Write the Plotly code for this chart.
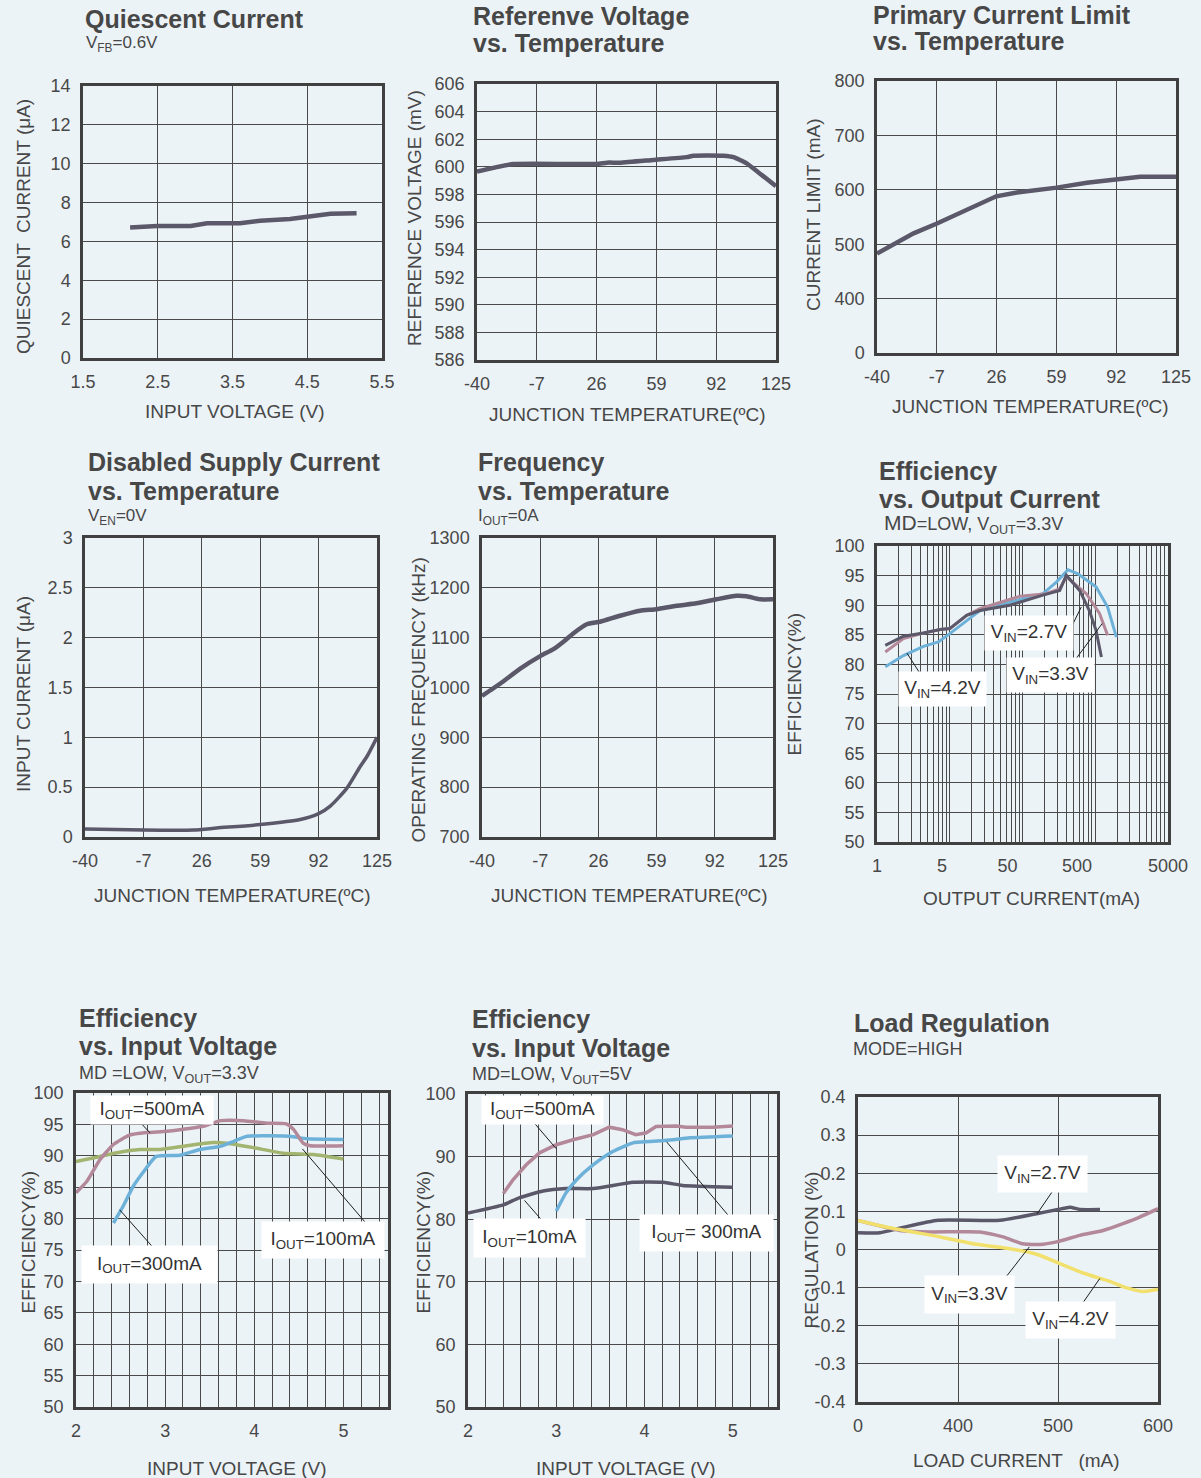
import math
import plotly.graph_objects as go

# ---------------- data ----------------
# 1. Quiescent current vs input voltage
qc_vin = [2.13, 2.49, 2.94, 3.16, 3.6, 3.87, 4.27, 4.5, 4.81, 5.16]
qc_iq = [6.72, 6.8, 6.8, 6.94, 6.94, 7.06, 7.16, 7.28, 7.42, 7.45]

# 2. Reference voltage vs temperature
rv_temp = [-40, -19.8, 26.1, 31.7, 39, 57.4, 75.8, 79.4, 96, 101.5, 108.8, 116.2, 125]
rv_mv = [599.65, 600.2, 600.2, 600.3, 600.3, 600.5, 600.7, 600.8, 600.8, 600.7, 600.25, 599.5, 598.6]

# temperature axis ticks (shared by charts 2-5)
temp_tickvals = [-40, -7, 26, 59, 92, 125]
temp_ticktext = ["-40", "-7", "26", "59", "92", "125"]

# 3. Primary current limit vs temperature (broken axis: "0" drawn at 300)
cl_temp = [-40, -19.8, -6.9, 2.3, 25.8, 37.2, 59.2, 75.8, 91.6, 105.2, 125]
cl_ma = [483, 520, 538, 552, 588, 595, 604, 613, 620, 624, 624]
cl_tickvals = [300, 400, 500, 600, 700, 800]
cl_ticktext = ["0", "400", "500", "600", "700", "800"]

# 4. Disabled supply current vs temperature
ds_temp = [-40, -7, 21.3, 34.5, 59, 81.6, 92, 98.6, 108, 115.6, 119.4, 125]
ds_ua = [0.08, 0.07, 0.07, 0.09, 0.125, 0.175, 0.235, 0.31, 0.49, 0.71, 0.81, 1.0]

# 5. Frequency vs temperature
fq_temp = [-40, -29.6, -18.3, -7, 0.5, 6.2, 11.9, 19.4, 27, 38.3, 49.6, 59, 70.3, 81.6, 93, 104.3, 110, 117.5, 125]
fq_khz = [983, 1008, 1038, 1063, 1077, 1092, 1109, 1127, 1132, 1144, 1154, 1157, 1164, 1169, 1177, 1184, 1183, 1177, 1177]

# 6. Efficiency vs output current (log axis)
eo_i_27 = [1.3, 2.31, 4.35, 7.4, 10, 17.1, 26, 67, 191, 325, 400, 610, 830, 1025, 1215]
eo_e_27 = [83.2, 84.75, 85.3, 85.9, 86.05, 88.3, 89.1, 90.0, 91.7, 92.5, 95.05, 92.5, 89.1, 85.75, 81.25]
eo_i_33 = [1.3, 2.31, 4.35, 7.4, 10, 17.1, 26, 92, 213, 325, 400, 754, 1145, 1480]
eo_e_33 = [82.1, 84.35, 85.3, 85.9, 86.05, 88.3, 89.4, 91.5, 91.95, 92.8, 94.8, 91.95, 88.6, 84.9]
eo_i_42 = [1.3, 2.31, 4.35, 6.98, 10, 17.1, 26, 67, 191, 292, 422, 577, 1025, 1480, 1950]
eo_e_42 = [79.6, 81.5, 83.05, 83.8, 85.2, 87.4, 89.1, 90.5, 91.95, 93.9, 96.0, 95.3, 93.1, 89.7, 84.6]
eo_gridvals = [m * 10 ** d for d in range(4) for m in range(1, 10)] + [10000]
eo_tickvals = [1, 7.8, 62, 560, 10000]
eo_ticktext = ["1", "5", "50", "500", "5000"]

# 7. Efficiency vs input voltage, VOUT=3.3V
e3_v_500 = [2.0, 2.12, 2.27, 2.42, 2.6, 2.79, 3.02, 3.24, 3.43, 3.62, 3.88, 4.14, 4.36, 4.44, 4.55, 4.63, 5.0]
e3_e_500 = [84.1, 85.9, 89.4, 91.8, 93.3, 93.7, 93.9, 94.3, 94.7, 95.6, 95.6, 95.2, 95.1, 94.2, 92.0, 91.6, 91.6]
e3_v_300 = [2.42, 2.53, 2.64, 2.76, 2.9, 3.17, 3.39, 3.62, 3.77, 3.92, 4.4, 4.59, 5.0]
e3_e_300 = [79.3, 82.0, 85.1, 87.5, 89.9, 90.1, 91.0, 91.5, 92.3, 93.1, 93.1, 92.7, 92.6]
e3_v_100 = [2.0, 2.27, 2.46, 2.72, 2.94, 3.24, 3.54, 3.69, 3.99, 4.33, 4.66, 5.0]
e3_e_100 = [89.1, 89.9, 90.5, 91.0, 91.0, 91.6, 92.1, 92.0, 91.3, 90.4, 90.2, 89.5]

# 8. Efficiency vs input voltage, VOUT=5V
e5_v_500 = [2.4, 2.51, 2.66, 2.81, 3.0, 3.19, 3.42, 3.6, 3.75, 3.9, 4.02, 4.13, 4.36, 4.47, 4.77, 5.0]
e5_e_500 = [84.1, 86.3, 88.7, 90.6, 91.9, 92.7, 93.5, 94.7, 94.3, 93.5, 93.8, 94.8, 94.9, 94.7, 94.7, 94.9]
e5_v_300 = [3.0, 3.11, 3.23, 3.42, 3.64, 3.87, 4.06, 4.32, 4.51, 5.0]
e5_e_300 = [81.3, 84.2, 86.3, 88.7, 90.8, 92.2, 92.4, 92.7, 93.0, 93.3]
e5_v_10 = [2.0, 2.4, 2.58, 2.85, 3.11, 3.42, 3.87, 4.21, 4.43, 5.0]
e5_e_10 = [81.0, 82.3, 83.4, 84.5, 84.9, 84.9, 85.9, 85.9, 85.4, 85.1]

# 9. Load regulation (broken axis: "0" drawn at 300)
lr_i_27 = [300, 322, 345, 380, 442, 478.6, 500, 512, 522, 542]
lr_r_27 = [0.044, 0.044, 0.058, 0.0765, 0.0765, 0.094, 0.105, 0.111, 0.105, 0.105]
lr_i_33 = [300, 342, 372, 422, 445, 465, 482, 498.6, 521.8, 545, 565, 581.7, 600]
lr_r_33 = [0.076, 0.05, 0.046, 0.046, 0.033, 0.015, 0.013, 0.02, 0.037, 0.05, 0.068, 0.085, 0.107]
lr_i_42 = [300, 332, 382, 418.8, 452, 478.6, 501.9, 525, 551.8, 568, 585, 600]
lr_r_42 = [0.0765, 0.057, 0.033, 0.0135, 0.002, -0.0125, -0.037, -0.0616, -0.0835, -0.1, -0.11, -0.105]
lr_tickvals = [300, 400, 500, 600]
lr_ticktext = ["0", "400", "500", "600"]
lr_ytickvals = [-0.4, -0.3, -0.2, -0.1, 0, 0.1, 0.2, 0.3, 0.4]
lr_yticktext = ["-0.4", "-0.3", "-0.2", "-0.1", "0", "0.1", "0.2", "0.3", "0.4"]

# ---------------- style ----------------
W, H = 1201, 1478
BG = "#ECF3F7"
GRID = "#4A4A4A"
FRAME = "#404040"
TXT = "#484848"
FONT = "Liberation Sans, Arial, Helvetica, sans-serif"
DARK = "#5A5869"
PINK = "#B3899A"
BLUE = "#6DB1D9"
GREEN = "#A2B46F"
YELLOW = "#F2E06C"
TICK = 18


def dom(x0, x1, y0, y1):
    return [x0 / W, x1 / W], [1 - y1 / H, 1 - y0 / H]


def px(x):
    return x / W


def py(y):
    return 1 - y / H


boxes = {
    1: (83, 382, 86, 358),
    2: (477, 776, 84, 360),
    3: (877, 1176, 81, 353),
    4: (85, 377, 538, 837),
    5: (482, 773, 538, 837),
    6: (877, 1168, 546, 842),
    7: (76, 388, 1093, 1407),
    8: (468, 777, 1094, 1407),
    9: (858, 1158, 1097, 1402),
}

fig = go.Figure()


def base_axis(**kw):
    d = dict(showline=True, mirror=True, linecolor=FRAME, linewidth=2.5,
             showgrid=True, gridcolor=GRID, gridwidth=1.3, zeroline=False,
             ticks="", tickfont=dict(size=TICK, color=TXT, family=FONT),
             ticklabelstandoff=6, fixedrange=True, automargin=False)
    d.update(kw)
    return d


xa = {}
ya = {}
xa[1] = base_axis(range=[1.5, 5.5], tickmode="linear", tick0=1.5, dtick=1)
ya[1] = base_axis(range=[0, 14], tickmode="linear", tick0=0, dtick=2)
temp_ticks = dict(range=[-40, 125], tickmode="array", tickvals=temp_tickvals, ticktext=temp_ticktext)
xa[2] = base_axis(**temp_ticks)
ya[2] = base_axis(range=[586, 606], tickmode="linear", tick0=586, dtick=2)
xa[3] = base_axis(**temp_ticks)
ya[3] = base_axis(range=[300, 800], tickmode="array", tickvals=cl_tickvals, ticktext=cl_ticktext)
xa[4] = base_axis(**temp_ticks)
ya[4] = base_axis(range=[0, 3], tickmode="linear", tick0=0, dtick=0.5)
xa[5] = base_axis(**temp_ticks)
ya[5] = base_axis(range=[700, 1300], tickmode="linear", tick0=700, dtick=100)
xa[6] = base_axis(type="log", range=[0, 4], tickmode="array", tickvals=eo_tickvals,
                  ticktext=eo_ticktext, showgrid=False,
                  minor=dict(tickmode="array", tickvals=eo_gridvals, showgrid=True,
                             gridcolor=GRID, gridwidth=1.3, ticks=""))
ya[6] = base_axis(range=[50, 100], tickmode="linear", tick0=50, dtick=5)
minor_v = dict(dtick=0.2, tick0=2, showgrid=True, gridcolor=GRID, gridwidth=1.3, ticks="")
xa[7] = base_axis(range=[2, 5.5], tickmode="linear", tick0=2, dtick=1, minor=minor_v)
ya[7] = base_axis(range=[50, 100], tickmode="linear", tick0=50, dtick=5)
xa[8] = base_axis(range=[2, 5.5], tickmode="linear", tick0=2, dtick=1, minor=minor_v)
ya[8] = base_axis(range=[50, 100], tickmode="linear", tick0=50, dtick=10)
xa[9] = base_axis(range=[300, 600], tickmode="array", tickvals=lr_tickvals, ticktext=lr_ticktext)
ya[9] = base_axis(range=[-0.4, 0.4], tickmode="array", tickvals=lr_ytickvals, ticktext=lr_yticktext)

layout_axes = {}
for k in range(1, 10):
    dx, dy = dom(*boxes[k])
    sx = "" if k == 1 else str(k)
    xa[k].update(domain=dx, anchor="y" + sx)
    ya[k].update(domain=dy, anchor="x" + sx)
    layout_axes["xaxis" + sx] = xa[k]
    layout_axes["yaxis" + sx] = ya[k]


def line(x, y, k, color, width=4, shape="spline", smoothing=0.6):
    sx = "" if k == 1 else str(k)
    fig.add_trace(go.Scatter(x=x, y=y, mode="lines", xaxis="x" + sx, yaxis="y" + sx,
                             line=dict(color=color, width=width, shape=shape, smoothing=smoothing),
                             showlegend=False, hoverinfo="skip"))


line(qc_vin, qc_iq, 1, DARK, 4.5, "linear")
line(rv_temp, rv_mv, 2, DARK, 4.5, "spline", 0.5)
line(cl_temp, cl_ma, 3, DARK, 4.5, "linear")
line(ds_temp, ds_ua, 4, DARK, 3.5, "spline", 0.6)
line(fq_temp, fq_khz, 5, DARK, 4.5, "spline", 0.5)
line(eo_i_42, eo_e_42, 6, BLUE, 3, "linear")
line(eo_i_33, eo_e_33, 6, PINK, 3, "linear")
line(eo_i_27, eo_e_27, 6, DARK, 3, "linear")
line(e3_v_100, e3_e_100, 7, GREEN, 3.5, "spline", 0.5)
line(e3_v_300, e3_e_300, 7, BLUE, 3.5, "spline", 0.5)
line(e3_v_500, e3_e_500, 7, PINK, 3.5, "spline", 0.5)
line(e5_v_10, e5_e_10, 8, DARK, 3.5, "spline", 0.5)
line(e5_v_300, e5_e_300, 8, BLUE, 3.5, "spline", 0.5)
line(e5_v_500, e5_e_500, 8, PINK, 3.5, "linear")
line(lr_i_27, lr_r_27, 9, DARK, 3.5, "spline", 0.5)
line(lr_i_33, lr_r_33, 9, PINK, 3.5, "spline", 0.5)
line(lr_i_42, lr_r_42, 9, YELLOW, 3.5, "spline", 0.5)

# ---------------- leader lines (curve -> label box) ----------------
leaders = [
    (7, [2.663, 2.83], [96.2, 93.65]),
    (7, [2.49, 2.89], [81.4, 75.0]),
    (7, [4.54, 5.30], [91.1, 78.5]),
    (8, [2.70, 3.0], [96.2, 91.25]),
    (8, [2.64, 2.87], [83.0, 79.3]),
    (8, [4.25, 5.02], [92.35, 79.4]),
    (6, [401, 643], [84.6, 89.7]),
    (6, [489, 1247], [80.2, 86.9]),
    (6, [4.31, 2.58], [77.65, 81.9]),
    (9, [500.2, 479.2], [0.1744, 0.094]),
    (9, [448, 471.3], [-0.072, 0.0066]),
    (9, [520.9, 541.8], [-0.155, -0.076]),
]
for k, lx, ly in leaders:
    line(lx, ly, k, "#1E1E1E", 1, "linear")

annotations = []
LS = 19


def label(k, x, y, text, w, h, log=False):
    sx = "" if k == 1 else str(k)
    annotations.append(dict(x=math.log10(x) if log else x, y=y, xref="x" + sx, yref="y" + sx,
                            text=text, showarrow=False, bgcolor="white", width=w, height=h,
                            font=dict(size=LS, color="#333333", family=FONT),
                            xanchor="center", yanchor="middle", align="center", valign="middle"))


IO = "I<sub>OUT</sub>"
VI = "V<sub>IN</sub>"
label(7, 2.854, 97.35, IO + "=500mA", 120, 26)
label(7, 2.826, 72.7, IO + "=300mA", 133, 35)
label(7, 4.775, 76.6, IO + "=100mA", 120, 34)
label(8, 2.84, 97.5, IO + "=500mA", 119, 26)
label(8, 2.70, 77.0, IO + "=10mA", 109, 36)
label(8, 4.70, 77.8, IO + "= 300mA", 131, 34)
label(6, 121, 85.3, VI + "=2.7V", 86, 32, log=True)
label(6, 240, 78.2, VI + "=3.3V", 85, 32, log=True)
label(6, 7.92, 75.8, VI + "=4.2V", 85, 32, log=True)
label(9, 484.2, 0.199, VI + "=2.7V", 87, 34)
label(9, 411.3, -0.118, VI + "=3.3V", 87, 35)
label(9, 512.6, -0.184, VI + "=4.2V", 87, 34)


def text(x, y, s, size, bold=False, angle=0, anchor="left"):
    annotations.append(dict(x=px(x), y=py(y), xref="paper", yref="paper", text=s,
                            showarrow=False, textangle=angle, xanchor=anchor, yanchor="middle",
                            font=dict(size=size, color="#474747", family=FONT,
                                      weight="bold" if bold else "normal")))


TS = 25
SS = 18
# titles
text(83, 19, "Quiescent Current", TS, True)
text(84, 44, "V<sub>FB</sub>=0.6V", 17)
text(471, 16.5, "Referenve Voltage", TS, True)
text(471, 43.5, "vs. Temperature", TS, True)
text(871, 15, "Primary Current Limit", TS, True)
text(871, 41, "vs. Temperature", TS, True)
text(86, 462, "Disabled Supply Current", TS, True)
text(86, 491, "vs. Temperature", TS, True)
text(86, 517, "V<sub>EN</sub>=0V", 17)
text(476, 462, "Frequency", TS, True)
text(476, 491, "vs. Temperature", TS, True)
text(476, 517, "I<sub>OUT</sub>=0A", 17)
text(877, 471, "Efficiency", TS, True)
text(877, 498.5, "vs. Output Current", TS, True)
text(882, 523.5, "<span style='font-size:21px'>MD</span>=LOW, V<sub>OUT</sub>=3.3V", SS)
text(77, 1018, "Efficiency", TS, True)
text(77, 1046, "vs. Input Voltage", TS, True)
text(77, 1074, "MD =LOW, V<sub>OUT</sub>=3.3V", SS)
text(470, 1019.5, "Efficiency", TS, True)
text(470, 1048, "vs. Input Voltage", TS, True)
text(470, 1075.5, "MD=LOW, V<sub>OUT</sub>=5V", SS)
text(852, 1022.5, "Load Regulation", TS, True)
text(851, 1048.5, "MODE=HIGH", SS)

# axis titles
AS = 19
text(234.5, 411, "INPUT VOLTAGE (V)", AS, anchor="center")
text(24, 227, "QUIESCENT  CURRENT (μA)", AS, angle=-90, anchor="center")
text(627, 415, "JUNCTION TEMPERATURE(ºC)", AS, anchor="center")
text(414, 218, "REFERENCE VOLTAGE (mV)", AS, angle=-90, anchor="center")
text(1030, 406.5, "JUNCTION TEMPERATURE(ºC)", AS, anchor="center")
text(814, 215, "CURRENT LIMIT (mA)", AS, angle=-90, anchor="center")
text(232, 895, "JUNCTION TEMPERATURE(ºC)", AS, anchor="center")
text(24, 694, "INPUT CURRENT (μA)", AS, angle=-90, anchor="center")
text(629, 895, "JUNCTION TEMPERATURE(ºC)", AS, anchor="center")
text(417.5, 700, "OPERATING FREQUENCY (kHz)", AS, angle=-90, anchor="center")
text(1031, 898, "OUTPUT CURRENT(mA)", AS, anchor="center")
text(794.5, 684, "EFFICIENCY(%)", AS, angle=-90, anchor="center")
text(236, 1468, "INPUT VOLTAGE (V)", AS, anchor="center")
text(27.5, 1242, "EFFICIENCY(%)", AS, angle=-90, anchor="center")
text(625.5, 1468, "INPUT VOLTAGE (V)", AS, anchor="center")
text(422.5, 1242, "EFFICIENCY(%)", AS, angle=-90, anchor="center")
text(1016, 1460, "LOAD CURRENT   (mA)", AS, anchor="center")
text(810.5, 1250, "REGULATION (%)", AS, angle=-90, anchor="center")

fig.update_layout(
    width=W, height=H, autosize=False,
    margin=dict(l=0, r=0, t=0, b=0, pad=0, autoexpand=False),
    paper_bgcolor=BG, plot_bgcolor=BG,
    font=dict(family=FONT, color=TXT),
    showlegend=False, hovermode=False,
    annotations=annotations,
    **layout_axes,
)

fig.write_html("out.html", config={"displayModeBar": False},
               post_script="document.body.style.margin='0';document.body.style.background='%s';" % BG)
